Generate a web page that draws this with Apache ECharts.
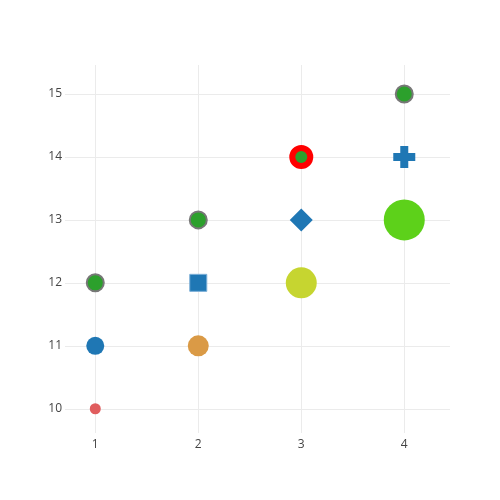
<!DOCTYPE html>
<html>
<head>
	<meta charset="UTF-8">
	<title>Marker styles</title>
	<script src="https://cdn.jsdelivr.net/npm/echarts@6/dist/echarts.min.js"></script>
	<style>
		html, body {
			margin: 0;
			padding: 0;
			background: #fff;
		}
		#main {
			width: 500px;
			height: 500px;
		}
	</style>
</head>
<body>
<div id="main"></div>
<script type="text/javascript">
    // point values
    var xValues = [1, 1, 1, 2, 2, 2, 3, 3, 3, 4, 4, 4];
    var yValues = [10, 11, 12, 11, 12, 13, 12, 13, 14, 13, 14, 15];
    var xTicks = [1, 2, 3, 4];
    var yTicks = [10, 11, 12, 13, 14, 15];

    // plus sign symbol
    var crossPath = 'path://M3.5,0 H7.5 V3.5 H11 V7.5 H7.5 V11 H3.5 V7.5 H0 V3.5 H3.5 Z';

    // one style per point, same order as the values
    var markerStyles = [
        {symbol: 'circle', size: 11, color: '#e05d5e'},
        {symbol: 'circle', size: 18, color: '#1f77b4'},
        {symbol: 'circle', size: 17, color: '#2ca02c', border: '#777777', bw: 2},
        {symbol: 'circle', size: 21, color: '#da9a46'},
        {symbol: 'rect', size: 17, color: '#1f77b4', border: '#7aaed6', bw: 1},
        {symbol: 'circle', size: 17, color: '#2ca02c', border: '#777777', bw: 2},
        {symbol: 'circle', size: 31, color: '#c6d530'},
        {symbol: 'diamond', size: 23, color: '#1f77b4'},
        {symbol: 'circle', size: 18, color: '#2ca02c', border: '#ff0000', bw: 6},
        {symbol: 'circle', size: 41, color: '#5dd11a'},
        {symbol: crossPath, size: 22, color: '#1f77b4'},
        {symbol: 'circle', size: 17, color: '#2ca02c', border: '#777777', bw: 2}
    ];

    var points = xValues.map(function (x, i) {
        var s = markerStyles[i];
        return {
            value: [x, yValues[i]],
            symbol: s.symbol,
            symbolSize: s.size,
            itemStyle: {
                color: s.color,
                borderColor: s.border || s.color,
                borderWidth: s.bw || 0,
                opacity: 1
            }
        };
    });

    function makeAxis(min, max, ticks, margin) {
        return {
            type: 'value',
            min: min,
            max: max,
            axisLine: {show: false},
            axisTick: {show: false, customValues: ticks},
            axisLabel: {
                show: true,
                margin: margin,
                color: '#444',
                fontSize: 12,
                fontFamily: 'Open Sans',
                customValues: ticks
            },
            splitLine: {
                show: true,
                lineStyle: {color: '#ebebeb', width: 1}
            }
        };
    }

    var myChart = echarts.init(document.getElementById('main'));
    myChart.setOption({
        animation: false,
        backgroundColor: '#fff',
        grid: {left: 65, top: 65, width: 385, height: 368},
        xAxis: makeAxis(0.706, 4.444, xTicks, 6),
        yAxis: makeAxis(9.615, 15.46, yTicks, 3),
        series: [
            {
                type: 'scatter',
                data: points,
                emphasis: {disabled: true}
            }
        ]
    });
</script>
</body>
</html>
